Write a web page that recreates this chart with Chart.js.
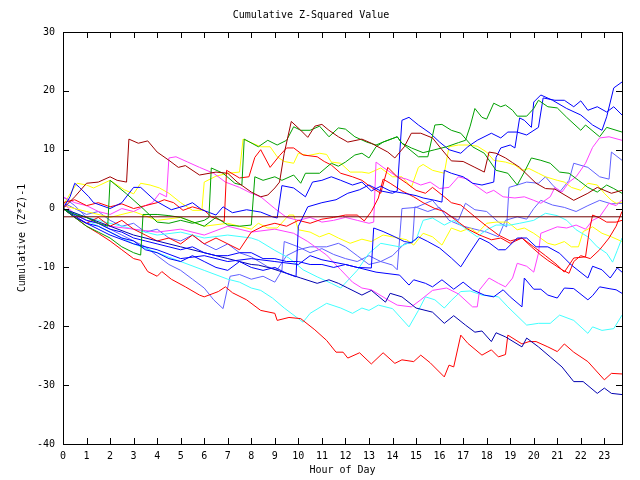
<!DOCTYPE html>
<html lang="en">

<head>
    <meta charset="UTF-8">
    <title>Cumulative Z-Squared Value</title>
    <script src="https://cdn.jsdelivr.net/npm/chart.js"></script>
    <style>
        body { margin: 0; background: #fff; }
        #wrap { width: 640px; height: 480px; }
    </style>
</head>

<body>
    <div id="wrap"><canvas id="zChart" width="640" height="480"></canvas></div>

    <script>
        // === Data: [hour, cumulative (z*z)-1] ===
        const hourTicks = [0, 23.75];
        const yTicks = [-40, 30];
        const meanLevel = -1.4;

        const darkRedA = [[0,0],[0.5,2],[1,4.3],[1.5,4.5],[2,5.4],[2.3,4.8],[2.7,4.5],[2.8,11.8],[3.2,11.1],[3.6,11.5],[4,9.6],[4.5,8.2],[4.9,7],[5.2,7.3],[5.8,5.7],[6.5,6.2],[7,6],[7.4,4.5],[8,2.8],[8.4,2],[8.7,2.3],[9,3.5],[9.2,4.5],[9.4,9.4],[9.7,14.8],[10.1,13.3],[10.4,12.1],[10.7,14],[11,14.3],[11.3,13.3],[11.7,12.2],[12.1,11.3],[12.7,11.8],[13.1,11.1],[13.8,9.6],[14.1,8.6],[14.5,10.5],[14.8,12.8],[15.2,12.8],[15.7,12],[16.1,10],[16.5,8.1],[17,8],[17.5,7],[17.9,6.2],[18.1,9.6],[18.4,9.4],[18.8,8.6],[19.1,7.8],[19.4,7],[20.1,4.3],[20.5,3.4],[20.9,3.3],[21.7,1.4],[22.3,2.6],[22.7,3.6],[23.3,2.6],[23.75,3.1]];
        const greenTop = [[0,0],[0.5,-1],[1,-1.5],[1.5,-2.5],[1.9,-3],[2,4.8],[2.7,2.5],[3.4,0],[4,-2.3],[4.5,-2.5],[5,-2],[5.5,-2.5],[6,-2],[6.2,-1.5],[6.3,6.9],[6.8,6],[7.3,4.3],[7.6,4],[7.7,11.8],[8.3,10.5],[8.7,11.6],[9.1,10.8],[9.5,11.6],[9.8,13.9],[10.1,13.3],[10.5,13.3],[10.9,14],[11.3,12.2],[11.7,13.7],[12,13.5],[12.4,12.2],[12.9,11.3],[13.3,10.8],[13.6,11.3],[14.2,12.2],[14.4,11.1],[15.1,8.8],[15.5,8.8],[15.8,14.2],[16.1,14.3],[16.5,13.3],[16.9,12.8],[17.4,10.5],[17.9,9.4],[18.4,6.5],[18.9,6],[19.3,4],[19.6,6.2],[19.9,8.6],[20.3,8.2],[20.7,7.7],[21.1,6.2],[21.5,6],[21.9,4.8],[22.3,3.6],[22.7,2.8],[23.1,4],[23.4,3.4],[23.75,2.6]];
        const greenMid = [[0,0],[0.5,-1.5],[1,-3],[1.5,-4],[2,-5],[2.5,-6.5],[3,-7.5],[3.3,-7.9],[3.4,-1],[4,-1],[4.5,-1.2],[5,-1.5],[6,-3],[6.5,-1.5],[7,-2.8],[7.5,-3],[8,-2.8],[8.15,5.4],[8.5,4.8],[9,5.4],[9.3,4.8],[9.8,5.7],[10.1,4.3],[10.3,6],[10.9,6],[11.4,7.7],[11.7,7.2],[12,7.9],[12.4,9.1],[12.7,9.4],[13,8.6],[13.3,10.5],[13.6,11.3],[14.2,12.2],[14.4,11.1],[14.8,10.3],[15.3,9.5],[15.8,10],[16.3,10.5],[16.8,11.2],[17.1,11.6],[17.3,14],[17.5,17],[17.8,15.5],[18,15.2],[18.3,17.9],[18.6,17.3],[18.8,17.6],[19.1,16.7],[19.3,15.7],[19.7,15.7],[20,17],[20.2,18.4],[20.6,17.3],[21,17.1],[21.4,15.5],[22,13.3],[22.2,14.2],[22.8,12.2],[23.1,13.8],[23.75,13]];
        const blueTop = [[0,0],[0.3,2],[0.5,4.3],[0.7,3.6],[1.1,2],[1.3,1],[2,0],[2.5,1],[3,3.6],[3.3,3.6],[3.9,1.4],[4.6,-0.2],[5.2,0.5],[5.5,1],[5.9,-0.2],[6.5,-1.1],[6.8,0.3],[7.2,-0.7],[7.8,-0.2],[8.4,-0.6],[8.9,-1.4],[9.1,-1.6],[9.3,3.9],[9.8,3.5],[10.3,2],[10.6,4.5],[11,4.8],[11.4,5.4],[11.8,4.8],[12.3,4],[12.7,4.5],[13.1,3],[13.5,3.8],[13.9,3],[14.5,2.6],[15,2.2],[15.3,1.8],[15.8,1.4],[16.1,1.1],[16.2,6.5],[16.5,6],[17,5.4],[17.4,4.3],[17.8,4],[18.3,4.5],[18.4,8.7],[18.6,10.3],[19,10.8],[19.2,10.3],[19.4,15.4],[19.6,15],[19.9,13.8],[20,18.1],[20.3,19.3],[20.8,18.4],[21.4,17],[22,15.9],[22.5,14.2],[22.9,13.3],[23.1,15.6],[23.4,20.5],[23.75,21.5]];
        const blueX = [[0,0],[0.5,-1.5],[1,-2.5],[1.5,-3],[2,-4],[2.5,-5],[3,-5.5],[3.5,-7],[4,-7.5],[4.5,-8.5],[5,-9],[5.5,-8],[6,-9],[6.5,-10],[7,-10.5],[7.5,-9],[8,-10],[8.5,-10.5],[9,-10],[9.5,-11],[9.9,-11.6],[10,-3],[10.4,0.3],[11,1],[11.6,1.5],[12.1,2.6],[12.6,3.2],[13,4],[13.5,3],[14,2.6],[14.2,3],[14.4,15],[14.7,15.5],[15.1,14.2],[15.6,12.8],[16,11.3],[16.4,10],[16.9,9.4],[17.2,10.5],[17.6,11.6],[18.2,12.8],[18.6,12],[18.9,13],[19.3,13],[19.7,12.5],[20.2,13.8],[20.4,18.8],[20.9,18.4],[21.3,18.4],[21.7,17.3],[22,18.3],[22.3,16.7],[22.7,17.3],[23.1,16.4],[23.4,17.3],[23.75,15.9]];
        const blueMid = [[0,0],[0.5,-1],[1,-2],[1.5,-2.5],[2,-3.5],[2.5,-4],[3,-5],[3.5,-5.5],[4,-6],[4.5,-6.5],[5,-7],[5.5,-6.5],[6,-7.5],[6.5,-8],[7,-8],[7.5,-7.5],[8,-7.5],[8.5,-8.5],[9,-8.5],[9.5,-9],[10,-9],[10.5,-9.5],[11,-9.5],[11.5,-10],[12,-9.5],[12.5,-10],[13.1,-10.1],[13.2,-3.3],[13.6,-3.9],[14.1,-4.8],[14.5,-5.6],[14.8,-5.8],[15.1,-4.8],[15.5,-5.6],[16,-6.7],[16.5,-8.4],[16.9,-9.9],[17.3,-7.4],[17.7,-5],[18.1,-5.8],[18.5,-7],[18.8,-7],[19.3,-5],[19.7,-5],[20.1,-6.5],[20.6,-6.5],[21.1,-7.6],[21.6,-9.6],[22.3,-11.8],[22.5,-9.8],[22.9,-10.4],[23.25,-11.8],[23.55,-10.1],[23.75,-10.8]];
        const blueLow = [[0,0],[1,-2.5],[2,-4.5],[3,-6],[4,-7],[5,-8.5],[6,-8],[7,-9],[8,-8.5],[9,-9],[10,-9.5],[10.5,-8],[11,-8.7],[12,-9.5],[12.5,-10],[13.3,-10.8],[14.3,-11.3],[14.7,-13],[14.9,-12.1],[15.4,-12.7],[15.7,-13.3],[16.1,-12.1],[16.6,-13.7],[17,-12.5],[17.4,-13.8],[17.9,-14.7],[18.3,-15],[18.7,-13.8],[19,-15],[19.5,-16.7],[19.6,-11.8],[20,-13.7],[20.3,-13.7],[20.6,-14.7],[21,-15.2],[21.3,-13.5],[21.7,-13.6],[22.3,-15.5],[22.5,-14.8],[22.8,-13.3],[23.2,-13.6],[23.5,-13.8],[23.75,-14.4]];
        const navyBottom = [[0,0],[1,-1.5],[2,-3],[3,-4.5],[4,-5.5],[5,-6.5],[6,-7.5],[7,-8.5],[8,-9.5],[8.3,-9.6],[8.8,-10.1],[9.5,-11],[10.1,-11.8],[10.8,-12.7],[11.3,-12.1],[11.7,-12.7],[12.1,-13.5],[12.7,-14.7],[13.1,-13.9],[13.7,-15.9],[13.9,-14.4],[14.4,-15],[15,-16.9],[15.7,-17.6],[16.2,-19.5],[16.6,-18.2],[17.1,-19.8],[17.5,-21],[17.8,-20.8],[18.2,-22.6],[18.4,-21.1],[18.8,-21.8],[19.5,-23.5],[19.7,-22],[20.2,-23.5],[20.7,-25.2],[21.2,-26.9],[21.7,-29.4],[22.1,-29.4],[22.7,-31.4],[23,-30.5],[23.3,-31.4],[23.75,-31.6]];
        const redMid = [[0,1],[0.5,1.5],[1,0.5],[1.5,1],[2,0.3],[2.5,0.8],[3,0],[3.5,0.5],[4,1],[4.3,1.5],[4.7,1],[5.1,-0.3],[5.5,0.3],[6,-0.3],[6.3,-1.4],[6.85,-2.2],[6.95,6.5],[7.5,5.2],[7.9,5.4],[8.15,8.7],[8.4,10],[8.8,7],[9.2,9],[9.5,10.3],[9.8,10.3],[10.2,9.1],[10.8,8.8],[11.1,8],[11.4,7.4],[11.8,6],[12.3,5.4],[12.7,4.8],[13.1,3.6],[13.5,2.6],[13.8,7],[14.2,5.4],[14.6,4.3],[15,3.1],[15.4,2.6],[15.7,3.6],[16.2,2],[16.5,1],[16.9,0.6],[17.5,-1.4],[18,-3],[18.5,-4.5],[19,-5.5],[19.5,-5],[20,-6.5],[20.5,-8],[21,-9.6],[21.3,-10.8],[21.5,-9.6],[21.7,-8.4],[22.2,-8.2],[22.35,-4],[22.5,-1.1],[22.8,-1.6],[23.1,-2.3],[23.5,-2.3],[23.75,-2]];
        const redLow = [[0,0],[0.5,-1.5],[1,-2.5],[1.5,-1.5],[2,-3],[2.5,-2],[3,-3.5],[3.5,-4.5],[4,-5.5],[4.5,-5],[5,-6],[5.5,-4.5],[6,-6],[6.5,-5],[7,-6],[7.5,-7],[8,-4],[8.5,-3],[9,-2.5],[9.5,-3],[10,-2],[10.5,-2.5],[11,-1.8],[11.5,-1.5],[12,-1.1],[12.5,-1.1],[12.8,-2.1],[13.1,-0.5],[13.4,1.8],[13.6,5],[13.9,4.3],[14.4,3],[14.9,2],[15.3,1],[15.8,0],[16.2,-0.5],[16.7,-2],[17.2,-3.5],[17.7,-4.5],[18.2,-5.3],[18.6,-5],[19,-5.9],[19.5,-5],[19.9,-6.5],[20.3,-7.9],[20.6,-8.8],[20.9,-9.6],[21.2,-10.4],[21.5,-11],[21.7,-9],[22,-8],[22.4,-8.5],[22.8,-7],[23.2,-5],[23.5,-3],[23.75,-0.5]];
        const redBottom = [[0,0],[0.5,-1.5],[1,-3],[1.5,-4.2],[2,-5.5],[2.5,-7],[3,-8.5],[3.3,-8.8],[3.6,-10.7],[4,-11.5],[4.2,-10.7],[4.6,-12],[5.2,-13.3],[5.8,-14.7],[6,-15],[6.6,-14.1],[6.9,-13.3],[7.2,-14.3],[7.8,-15.5],[8.4,-17.3],[9,-17.8],[9.1,-19],[9.6,-18.5],[10.1,-18.7],[10.7,-20.6],[11.2,-22.4],[11.6,-24.4],[11.9,-24.4],[12.1,-25.4],[12.6,-24.5],[13.1,-26.4],[13.6,-24.5],[14.1,-26.3],[14.4,-25.7],[14.9,-26],[15.2,-24.9],[15.6,-26.2],[16.2,-28.6],[16.4,-26.6],[16.6,-26.9],[16.9,-21.5],[17.2,-22.9],[17.8,-24.9],[18.2,-24],[18.5,-25.2],[18.8,-24.8],[18.9,-21.5],[19.5,-23],[19.8,-22.6],[20.1,-22.6],[20.6,-23.5],[21,-24.3],[21.3,-23],[21.7,-24.4],[22.3,-26],[23,-29.1],[23.3,-28],[23.75,-28.1]];
        const magentaTop = [[0,2],[0.5,1],[1,0.5],[1.5,-0.5],[2,-1],[2.5,0],[3,-0.5],[3.5,0.5],[3.8,1],[4.1,2.6],[4.4,2],[4.5,8.6],[4.8,8.8],[5.3,7.9],[5.8,7],[6.4,6],[6.9,4.5],[7.5,3.6],[8,2.6],[8.4,2],[9,0],[9.5,-1.5],[10,-2],[10.5,-1.5],[11,-2.3],[11.5,-2],[12,-1.5],[12.5,-2],[13,-2.5],[13.2,-2.3],[13.3,7.9],[13.6,7],[14.2,5.4],[14.6,5],[15.2,4],[15.6,4.5],[16,3.4],[16.4,3.6],[16.6,4.5],[16.8,5.4],[17.2,5],[17.5,4],[18,2.6],[18.3,3.1],[18.7,2],[19.2,1.8],[19.6,2],[20,1.4],[20.3,0.9],[20.7,2],[20.9,3.6],[21.2,2.8],[21.5,4.5],[21.8,5.4],[22.2,7.7],[22.5,10.4],[22.8,12],[23.2,12.2],[23.75,11.6]];
        const magentaLow = [[0,1],[0.5,-1],[1,-2],[2,-3],[3,-3.5],[4,-4],[5,-3.5],[6,-4.5],[7,-3],[8,-4],[9,-3.5],[9.8,-4.2],[10.4,-5.6],[11.2,-7.9],[11.8,-10.4],[12.3,-12.5],[12.7,-13.5],[13.1,-13.8],[13.8,-15.5],[14.2,-16.4],[14.8,-16.7],[15.2,-15.5],[15.7,-13.9],[16.3,-13.5],[16.8,-14.5],[17.4,-16.7],[17.6,-16.7],[17.7,-13.8],[18.1,-11.8],[18.5,-12.7],[18.8,-13.3],[19.1,-11.8],[19.3,-9.3],[19.7,-9.8],[20,-10.8],[20.2,-7.6],[20.3,-4.2],[21,-3.1],[21.4,-3.3],[21.8,-2.8],[22.2,-3.5],[22.5,-2],[22.8,-1.4],[23.2,0.9],[23.5,0.5],[23.75,1.5]];
        const cyanLow = [[0,0],[1,-2],[2,-4],[3,-6],[4,-7.5],[5,-9],[6,-10.5],[7,-12],[7.5,-12.5],[8,-13.5],[8.4,-13.9],[8.9,-15.2],[9.4,-16.9],[10.2,-19.3],[10.5,-17.8],[11.2,-16.1],[11.8,-16.9],[12.3,-17.8],[12.7,-16.9],[13,-17.3],[13.4,-16.4],[14,-17],[14.7,-20.1],[15.1,-17.3],[15.4,-15],[15.8,-15.5],[16.2,-16.9],[16.5,-15.6],[16.9,-14.1],[17.3,-14],[17.8,-14.7],[18.5,-15],[18.9,-16.7],[19.7,-19.8],[20.2,-19.5],[20.7,-19.5],[21.1,-18.1],[21.7,-19],[22.3,-21.2],[22.5,-20.1],[22.9,-20.7],[23.4,-20.4],[23.75,-18.1]];
        const cyanMid = [[0,0],[1,-1.5],[2,-2.5],[3,-3.5],[4,-4.5],[5,-4],[6,-5],[7,-4.5],[8,-5],[8.3,-5.4],[9,-7.1],[9.6,-8.4],[10.2,-10.4],[10.8,-11.6],[11.4,-12.7],[11.8,-13.5],[12.5,-10.5],[13,-7.6],[13.5,-5.9],[14.3,-6.5],[15,-5.3],[15.3,-2],[15.7,-1.6],[16.2,-2.8],[16.6,-2],[17,-3.1],[17.6,-4.8],[18,-3.6],[18.4,-2.8],[19,-2.8],[19.4,-2.5],[20,-2],[20.5,-0.8],[21,-1.2],[21.4,-2],[21.8,-3.6],[22.3,-4.8],[22.7,-6.5],[23.1,-7.6],[23.35,-9.1],[23.55,-7.1],[23.75,-5]];
        const yellowTop = [[0,0.5],[0.3,2.5],[0.6,4.3],[1,4],[1.3,3.5],[2,4.8],[2.6,3.2],[3,2.5],[3.3,4.3],[3.7,4],[4.1,3.5],[4.5,2.6],[5,1],[5.5,-0.3],[5.9,-0.3],[6,4.5],[6.5,5.5],[7,6],[7.5,6.2],[7.65,11.8],[8.4,10.5],[8.8,10.5],[9.1,8.8],[9.4,8],[9.8,7.7],[10,9.4],[10.4,9],[10.9,9.4],[11.2,9.2],[11.4,7.9],[11.8,7.7],[12.2,6.2],[12.7,6.2],[13,6],[13.5,6.9],[14,5.4],[14.4,5.4],[14.8,3.6],[15.1,7],[15.3,7.5],[15.7,6.5],[16.2,6],[16.4,10.5],[16.8,10.8],[17.2,10.8],[17.6,10.6],[18,9.6],[18.3,8.2],[18.8,7.9],[19.2,7.4],[19.5,6.5],[19.8,6.8],[20.2,6],[20.5,5.4],[21,4.8],[21.3,4.5],[21.6,3.6],[22,3.1],[22.3,4.3],[22.7,4],[23,2.6],[23.3,1.4],[23.5,0.9],[23.75,1.1]];
        const yellowLow = [[0,0.5],[1,-0.5],[2,-1.5],[3,-0.5],[4,-2],[5,-1.5],[6,-3],[7,-2.5],[8,-3.5],[8.3,-2.5],[8.7,-3.3],[9.1,-3.3],[9.6,-1.1],[9.8,-1.1],[10,-3.6],[10.5,-4],[10.9,-4.8],[11.3,-4.2],[11.7,-5],[12.2,-5.9],[12.7,-5.2],[13.1,-5.6],[13.6,-4.5],[14,-4.8],[14.6,-5.3],[14.9,-6.2],[15.3,-4.2],[15.7,-4.8],[16.1,-6.2],[16.5,-3.3],[16.9,-3.9],[17.3,-3.3],[17.6,-4.2],[18,-2.5],[18.4,-2.3],[18.9,-2.3],[19.3,-3.6],[19.6,-3.3],[20,-4.2],[20.6,-5.9],[20.9,-6.2],[21.3,-5.6],[21.6,-6.5],[21.9,-6.5],[22.1,-3.9],[22.5,-3.1],[22.9,-4.2],[23.3,-4.8],[23.75,-5.6]];
        const paleBlueA = [[0,1],[0.5,0],[1,-1],[1.5,-0.5],[2,-2],[2.5,-3],[3,-2.5],[3.5,-4],[4,-3.5],[4.5,-5],[5,-5.5],[5.5,-4.5],[6,-6],[6.5,-7],[7,-6],[7.5,-7.5],[8,-8.2],[8.7,-9.9],[9.1,-10.4],[9.5,-8],[10,-7],[10.5,-6.5],[11.2,-6.5],[11.7,-5.9],[12,-6.5],[12.5,-8],[13,-9.5],[13.5,-9],[14,-9.6],[14.2,-10.4],[14.4,0],[15,0.2],[15.7,1.4],[16,0],[16.4,-1.1],[16.8,-2],[17.1,0.9],[17.5,-0.2],[18,-0.5],[18.5,-2.3],[18.85,-3.1],[18.95,3.6],[19.3,4],[19.7,4.5],[20.2,4.3],[20.5,5.4],[20.8,4],[21.1,2.8],[21.5,4.8],[21.7,7.7],[22.3,7],[22.8,5.4],[23.2,5],[23.3,9.6],[23.75,8.2]];
        const paleBlueB = [[0,2],[0.5,0.5],[1,-1.5],[1.5,-2.5],[2,-3.5],[2.5,-4.5],[3,-5.5],[3.5,-6.5],[4,-8],[4.5,-9.5],[5,-10.5],[5.5,-12],[6,-13.5],[6.4,-15.5],[6.8,-17],[7.1,-11.5],[7.5,-11.2],[8,-12],[8.5,-11.5],[9,-12.5],[9.3,-10.5],[9.4,-5.6],[10,-6.5],[10.5,-7.5],[11,-6.8],[11.5,-7.8],[12,-8.5],[12.5,-9],[13,-8],[13.5,-9],[14,-8],[14.5,-6],[14.85,-5.8],[14.95,0.3],[15.5,-0.5],[16,0.2],[16.4,-2],[17,-3],[17.5,-3.5],[18,-4],[18.5,-4.8],[18.8,-2],[19.3,-1.4],[19.7,-1.8],[20,0],[20.3,1.4],[20.8,0.6],[21.3,0.2],[21.8,-0.5],[22.3,0.5],[22.8,1.4],[23.3,0.8],[23.75,0.9]];

        const walks = [darkRedA, greenTop, greenMid, blueTop, blueX, blueMid, blueLow, navyBottom,
            redMid, redLow, redBottom, magentaTop, magentaLow, cyanLow, cyanMid,
            yellowTop, yellowLow, paleBlueA, paleBlueB];
        const walkColors = ['#a00000', '#00a000', '#00a000', '#0000ff', '#0000ff', '#0000ff', '#0000ff', '#0000b0',
            '#ff0000', '#ff0000', '#ff0000', '#ff40ff', '#ff40ff', '#40ffff', '#40ffff',
            '#ffff00', '#ffff00', '#6060ff', '#6060ff'];

        // === inward ticks on all four sides + full frame, gnuplot style ===
        const frameTicks = {
            id: 'frameTicks',
            afterDraw(chart) {
                const { ctx, chartArea: a, scales: { x, y } } = chart;
                ctx.save();
                ctx.strokeStyle = '#000';
                ctx.lineWidth = 1;
                ctx.beginPath();
                x.ticks.forEach(t => {
                    const px = Math.round(x.getPixelForValue(t.value)) + 0.5;
                    ctx.moveTo(px, a.bottom); ctx.lineTo(px, a.bottom - 6);
                    ctx.moveTo(px, a.top); ctx.lineTo(px, a.top + 6);
                });
                y.ticks.forEach(t => {
                    const py = Math.round(y.getPixelForValue(t.value)) + 0.5;
                    ctx.moveTo(a.left, py); ctx.lineTo(a.left + 6, py);
                    ctx.moveTo(a.right, py); ctx.lineTo(a.right - 6, py);
                });
                ctx.stroke();
                ctx.strokeRect(a.left + 0.5, a.top + 0.5, a.width, a.height);
                ctx.restore();
            }
        };

        Chart.defaults.font.family = "'DejaVu Sans Mono', monospace";
        Chart.defaults.font.size = 10;
        Chart.defaults.color = '#000';

        // the mean level goes first so it is drawn on top
        const datasets = [{
            data: [{ x: hourTicks[0], y: meanLevel }, { x: hourTicks[1], y: meanLevel }],
            borderColor: '#700000',
        }].concat(walks.map((w, i) => ({
            data: w.map(p => ({ x: p[0], y: p[1] })),
            borderColor: walkColors[i],
        })));
        datasets.forEach(d => {
            d.showLine = true;
            d.borderWidth = 1;
            d.pointRadius = 0;
            d.tension = 0;
            d.fill = false;
        });

        new Chart(document.getElementById('zChart'), {
            type: 'scatter',
            data: { datasets: datasets },
            options: {
                responsive: false,
                animation: false,
                layout: { padding: { left: 0, right: 18, top: 0, bottom: 0 } },
                plugins: {
                    legend: { display: false },
                    tooltip: { enabled: false },
                    title: {
                        display: true,
                        text: 'Cumulative Z-Squared Value',
                        font: { size: 10, weight: 'normal' },
                        padding: { top: 9, bottom: 11 }
                    }
                },
                scales: {
                    x: {
                        type: 'linear',
                        min: hourTicks[0],
                        max: hourTicks[1],
                        grid: { display: false, drawTicks: false },
                        border: { display: false },
                        ticks: { stepSize: 1, includeBounds: false, autoSkip: false, maxRotation: 0, padding: 6 },
                        title: { display: true, text: 'Hour of Day', padding: { top: 0, bottom: 4 } },
                        afterFit: s => { s.height = 36; }
                    },
                    y: {
                        min: yTicks[0],
                        max: yTicks[1],
                        grid: { display: false, drawTicks: false },
                        border: { display: false },
                        ticks: { stepSize: 10, padding: 8 },
                        title: { display: true, text: 'Cumulative (Z*Z)-1', padding: { top: 16, bottom: 0 } },
                        afterFit: s => { s.width = 63; }
                    }
                }
            },
            plugins: [frameTicks]
        });
    </script>

</body>

</html>
